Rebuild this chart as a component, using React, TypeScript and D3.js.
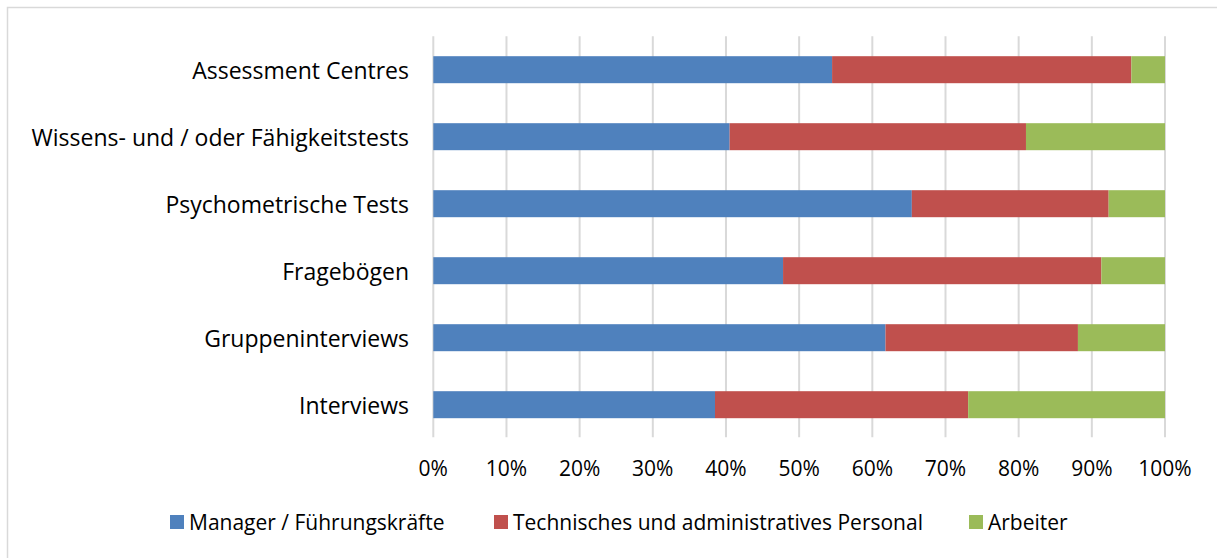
import React, { useEffect, useRef } from 'react'
import * as d3 from 'd3'

// categories from top to bottom
const categories = [
  'Assessment Centres',
  'Wissens- und / oder Fähigkeitstests',
  'Psychometrische Tests',
  'Fragebögen',
  'Gruppeninterviews',
  'Interviews',
]

const seriesNames = ['Manager / Führungskräfte', 'Technisches und administratives Personal', 'Arbeiter']
const seriesColors = ['#4F81BD', '#C0504D', '#9BBB59']

// percentage shares per category (same order as categories)
const managerValues = [54.5, 40.5, 65.4, 47.8, 61.8, 38.5]
const personalValues = [40.9, 40.5, 26.9, 43.5, 26.3, 34.6]
const arbeiterValues = [4.6, 19.0, 7.7, 8.7, 11.9, 26.9]

const xTicks = [0, 10, 20, 30, 40, 50, 60, 70, 80, 90, 100]

const FONT = '"Open Sans", sans-serif'

export default function App() {
  const svgRef = useRef<SVGSVGElement>(null)

  useEffect(() => {
    const svg = d3.select(svgRef.current)
    svg.selectAll('*').remove()

    const width = 1217
    const height = 558
    const left = 433.3
    const right = 1165
    const top = 36.2
    const bottom = 438.2

    svg.attr('width', width).attr('height', height)

    // chart frame
    svg.append('rect')
      .attr('x', 7.5)
      .attr('y', 7.5)
      .attr('width', width + 20)
      .attr('height', height + 20)
      .attr('fill', '#fff')
      .attr('stroke', '#d9d9d9')
      .attr('stroke-width', 1.5)

    const rows = categories.map((c, i) => ({
      category: c,
      s0: managerValues[i],
      s1: personalValues[i],
      s2: arbeiterValues[i],
    }))

    const x = d3.scaleLinear().domain([0, 100]).range([left, right])
    const y = d3.scaleBand<string>()
      .domain(categories)
      .range([top, bottom])
      .paddingInner(0.597)
      .paddingOuter(0.2985)

    // gridlines
    svg.append('g')
      .selectAll('line')
      .data(xTicks)
      .join('line')
      .attr('x1', d => x(d))
      .attr('x2', d => x(d))
      .attr('y1', top)
      .attr('y2', bottom - 1)
      .attr('stroke', '#d9d9d9')
      .attr('stroke-width', 2)

    const stack = d3.stack<any>().keys(['s0', 's1', 's2'])
    const stacked = stack(rows)

    svg.append('g')
      .selectAll('g')
      .data(stacked)
      .join('g')
      .attr('fill', (_, i) => seriesColors[i])
      .selectAll('rect')
      .data(d => d)
      .join('rect')
      .attr('x', d => x(d[0]))
      .attr('y', d => y(d.data.category)!)
      .attr('width', d => x(d[1]) - x(d[0]))
      .attr('height', y.bandwidth())

    // category labels
    svg.append('g')
      .selectAll('text')
      .data(categories)
      .join('text')
      .attr('x', 409)
      .attr('y', d => y(d)! + y.bandwidth() / 2)
      .attr('text-anchor', 'end')
      .attr('dominant-baseline', 'central')
      .style('font-family', FONT)
      .style('font-size', '23px')
      .style('fill', '#000')
      .text(d => d)

    // tick labels
    svg.append('g')
      .selectAll('text')
      .data(xTicks)
      .join('text')
      .attr('x', d => x(d))
      .attr('y', 468)
      .attr('text-anchor', 'middle')
      .attr('dominant-baseline', 'central')
      .style('font-family', FONT)
      .style('font-size', '21px')
      .style('fill', '#000')
      .text(d => d + '%')

    // legend
    const legendX = [170, 494, 969]
    const legend = svg.append('g')
      .selectAll('g')
      .data(seriesNames)
      .join('g')
      .attr('transform', (_, i) => `translate(${legendX[i]}, 522)`)

    legend.append('rect')
      .attr('x', 0)
      .attr('y', -7)
      .attr('width', 14)
      .attr('height', 14)
      .attr('fill', (_, i) => seriesColors[i])

    legend.append('text')
      .attr('x', 19)
      .attr('y', 0)
      .attr('dominant-baseline', 'central')
      .style('font-family', FONT)
      .style('font-size', '21px')
      .style('fill', '#000')
      .text(d => d)
  }, [])

  return (
    <div style={{ position: 'absolute', left: 0, top: 0 }}>
      <svg ref={svgRef} style={{ display: 'block' }} />
    </div>
  )
}
